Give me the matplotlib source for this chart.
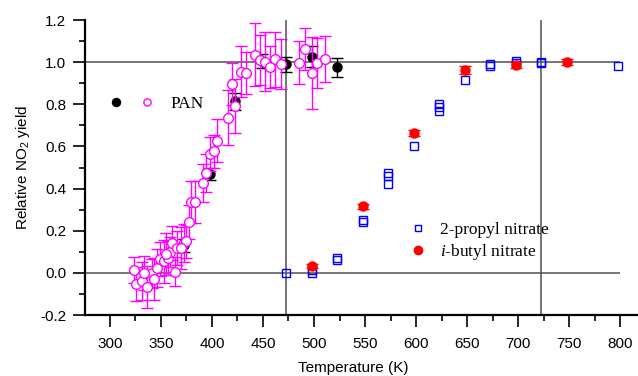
import matplotlib
matplotlib.use('Agg')
import matplotlib.pyplot as plt
from matplotlib.lines import Line2D
from matplotlib.legend_handler import HandlerTuple
from matplotlib.ticker import MultipleLocator

plt.rcParams['mathtext.fontset'] = 'custom'
plt.rcParams['mathtext.rm'] = 'Liberation Sans'
plt.rcParams['mathtext.it'] = 'Liberation Serif:italic'

# PAN, open magenta circles
pan_T = [324, 326, 331, 336, 341, 343, 346, 349, 353, 357, 359, 361, 364, 366,
         373, 375, 377, 379, 383, 391, 394, 398, 402, 405, 416, 420, 423, 428,
         433, 442, 447, 452, 457, 462, 468, 485, 491, 498, 503, 511, 333, 355, 370]
pan_Y = [0.014, -0.052, -0.04, -0.068, -0.002, -0.03, 0.022, 0.065, 0.054, 0.07,
         0.098, 0.141, 0.006, 0.117, 0.141, 0.149, 0.243, 0.338, 0.338, 0.426,
         0.476, 0.565, 0.576, 0.628, 0.737, 0.895, 0.792, 0.955, 0.948, 1.035,
         1.011, 1.003, 0.979, 1.014, 0.992, 0.998, 1.062, 0.948, 0.995, 1.016,
         0.0, 0.09, 0.12]
pan_err = [0.06, 0.08, 0.09, 0.1, 0.07, 0.1, 0.09, 0.08, 0.1, 0.08, 0.07, 0.08,
           0.07, 0.08, 0.09, 0.08, 0.08, 0.1, 0.1, 0.09, 0.09, 0.08, 0.08, 0.1,
           0.13, 0.1, 0.13, 0.12, 0.1, 0.15, 0.12, 0.14, 0.1, 0.13, 0.12, 0.1,
           0.1, 0.17, 0.12, 0.11, 0.08, 0.1, 0.1]

# PAN, filled black circles
pan2_T = [373, 398, 423, 449, 473, 498, 523]
pan2_Y = [0.13, 0.47, 0.815, 1.005, 0.99, 1.025, 0.975]
pan2_err = [0.033, 0.03, 0.04, 0.035, 0.035, 0.05, 0.047]

# 2-propyl nitrate
prop_T = [473, 498, 498, 523, 523, 548, 548, 573, 573, 573, 598, 623, 623, 623,
          648, 673, 673, 698, 698, 723, 723, 798]
prop_Y = [0.0, 0.0, 0.012, 0.06, 0.07, 0.24, 0.25, 0.42, 0.46, 0.475, 0.6, 0.77,
          0.785, 0.8, 0.915, 0.98, 0.99, 0.995, 1.005, 0.995, 1.002, 0.983]

# i-butyl nitrate
but_T = [498, 548, 598, 648, 698, 748]
but_Y = [0.033, 0.315, 0.665, 0.962, 0.985, 1.0]
but_err = [0.01, 0.012, 0.015, 0.02, 0.015, 0.015]

MAG = '#ff00ff'
LINE = '#505050'

fig = plt.figure(figsize=(6.38, 3.76), dpi=100)
ax = fig.add_axes([0.1332, 0.1622, 0.8668, 0.7846])
ax.set_xlim(275.5, 817.6)
ax.set_ylim(-0.2, 1.2)

# reference lines
ax.hlines([0.0, 1.0], 275.5, 800, colors=LINE, lw=1.1, zorder=1)
ax.vlines([473, 723], -0.2, 1.2, colors=LINE, lw=1.1, zorder=1)

ax.errorbar(pan2_T, pan2_Y, yerr=pan2_err, fmt='o', ms=6.5, mfc='black',
            mec='black', ecolor='black', elinewidth=1, capsize=4.5, capthick=1,
            zorder=3)
ax.errorbar(pan_T, pan_Y, yerr=pan_err, fmt='o', ms=7, mfc='white', mec=MAG,
            mew=1, ecolor=MAG, elinewidth=1, capsize=4.5, capthick=1, zorder=4)
ax.plot(prop_T, prop_Y, 's', ms=5.5, mfc='none', mec='#0000ff', mew=1, zorder=5)
ax.errorbar(but_T, but_Y, yerr=but_err, fmt='o', ms=6.5, mfc='red', mec='red',
            ecolor='red', elinewidth=1, capsize=4.5, capthick=1, zorder=6)

for side in ['top', 'right']:
    ax.spines[side].set_visible(False)
for side in ['left', 'bottom']:
    ax.spines[side].set_linewidth(1.6)

ax.xaxis.set_major_locator(MultipleLocator(50))
ax.xaxis.set_minor_locator(MultipleLocator(25))
ax.yaxis.set_major_locator(MultipleLocator(0.2))
ax.yaxis.set_minor_locator(MultipleLocator(0.1))
ax.tick_params(which='major', direction='out', length=8.5, width=1.2,
               labelsize=11, labelfontfamily='Liberation Sans')
ax.tick_params(which='minor', direction='out', length=4.5, width=1.2)
ax.tick_params(axis='x', which='major', pad=7)
ax.tick_params(axis='y', which='major', pad=5)
ax.set_yticks(ax.get_yticks())
ax.set_yticklabels(['%.1f' % v for v in ax.get_yticks()])
ax.set_ylim(-0.2, 1.2)

ax.set_xlabel('Temperature (K)', fontsize=11, family='Liberation Sans')
ax.xaxis.set_label_coords(0.485, -0.155)
ax.set_ylabel('Relative NO$_2$ yield', fontsize=11, family='Liberation Sans',
              labelpad=6)

# legends
h_black = Line2D([], [], ls='none', marker='o', ms=5.8, mfc='black', mec='black')
h_mag = Line2D([], [], ls='none', marker='o', ms=5.2, mfc='white', mec=MAG)
leg1 = ax.legend([(h_black, h_mag)], ['PAN'], handler_map={tuple: HandlerTuple(ndivide=None, pad=0)},
                 loc='center left', bbox_to_anchor=(0.0, 0.715), frameon=False,
                 handlelength=3.6, handletextpad=0.45,
                 prop={'family': 'Liberation Serif', 'size': 12.5})
ax.add_artist(leg1)

h_prop = Line2D([], [], ls='none', marker='s', ms=5, mfc='none', mec='#0000ff')
h_but = Line2D([], [], ls='none', marker='o', ms=6, mfc='red', mec='red')
ax.legend([h_prop, h_but], ['2-propyl nitrate', '$i$-butyl nitrate'],
          loc='upper left', bbox_to_anchor=(0.56, 0.37), frameon=False,
          handlelength=0.9, handletextpad=0.8, labelspacing=0.25,
          prop={'family': 'Liberation Serif', 'size': 12.5})

fig.savefig('out.png', dpi=100)
